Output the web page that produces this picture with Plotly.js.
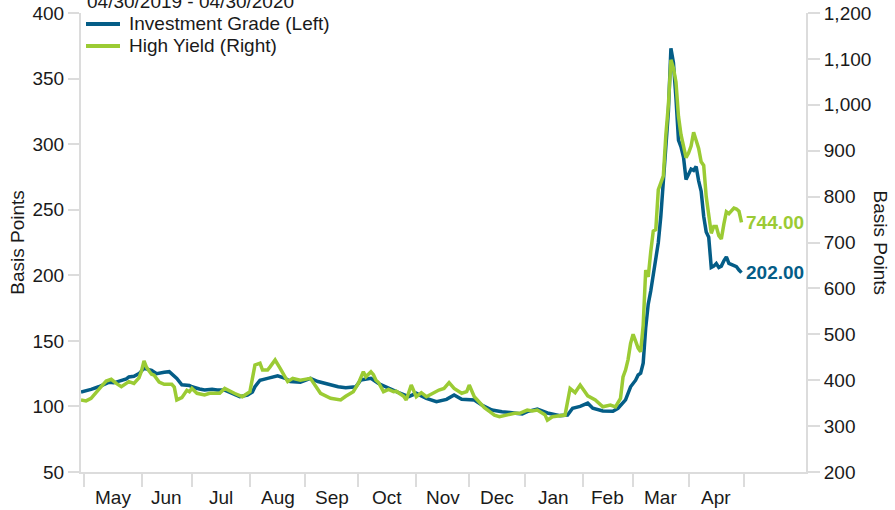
<!DOCTYPE html>
<html><head><meta charset="utf-8">
<script src="https://cdn.plot.ly/plotly-3.0.1.min.js"></script>
<style>html,body{margin:0;padding:0;background:#fff}#chart{width:895px;height:510px}</style>
</head><body><div id="chart"></div>
<script>
const periodText = '04/30/2019 - 04/30/2020';
const igName = 'Investment Grade (Left)';
const hyName = 'High Yield (Right)';
const axisTitle = 'Basis Points';

const igDates = ['2019-04-30','2019-05-03','2019-05-06','2019-05-09','2019-05-13','2019-05-15','2019-05-17','2019-05-22','2019-05-24','2019-05-27','2019-05-29','2019-05-31','2019-06-03','2019-06-04','2019-06-07','2019-06-11','2019-06-14','2019-06-18','2019-06-21','2019-06-25','2019-06-28','2019-07-01','2019-07-04','2019-07-08','2019-07-11','2019-07-15','2019-07-18','2019-07-23','2019-07-26','2019-07-31','2019-08-02','2019-08-05','2019-08-07','2019-08-12','2019-08-16','2019-08-21','2019-08-23','2019-08-29','2019-09-04','2019-09-09','2019-09-13','2019-09-19','2019-09-24','2019-09-30','2019-10-02','2019-10-08','2019-10-11','2019-10-17','2019-10-23','2019-10-29','2019-11-01','2019-11-07','2019-11-13','2019-11-19','2019-11-22','2019-11-27','2019-12-04','2019-12-09','2019-12-13','2019-12-19','2019-12-24','2019-12-31','2020-01-02','2020-01-08','2020-01-14','2020-01-21','2020-01-24','2020-01-28','2020-01-31','2020-02-05','2020-02-07','2020-02-13','2020-02-19','2020-02-21','2020-02-26','2020-02-28','2020-03-03','2020-03-04','2020-03-05','2020-03-06','2020-03-09','2020-03-10','2020-03-11','2020-03-12','2020-03-13','2020-03-16','2020-03-17','2020-03-18','2020-03-19','2020-03-20','2020-03-23','2020-03-24','2020-03-25','2020-03-26','2020-03-27','2020-03-30','2020-03-31','2020-04-01','2020-04-02','2020-04-03','2020-04-06','2020-04-07','2020-04-08','2020-04-09','2020-04-10','2020-04-13','2020-04-14','2020-04-15','2020-04-16','2020-04-17','2020-04-20','2020-04-21','2020-04-22','2020-04-23','2020-04-24','2020-04-27','2020-04-28','2020-04-29','2020-04-30'];
const igValues = [111,112,113,115,117,118.4,118,120,121,122.5,123,125,127,129,127.5,125,126,126.5,121.4,116.5,116,115,113.3,112.5,113,112.5,112.5,110,107.5,108.7,111,115,120,121.4,123.4,121.4,119,118.4,121.4,119,117,115,114.3,115,120.2,121.4,117.5,113.8,110.5,107.4,110,106.2,103.6,105.4,108.7,105.4,104.9,101.1,97.3,96,95.2,94.2,96,98,95,93,93.5,98.6,100,102.5,98.6,96.5,96.3,98.6,105,115,120,124,125.3,133,160,178,188,200,212,225,245,270,295,325,373,362,335,303,298,290,273,277,281,280,283,272,264,245,233,229,206,207,209,206,207,211,214,209,208,207,206.5,204,202];

const hyDates = ['2019-04-30','2019-05-02','2019-05-06','2019-05-08','2019-05-10','2019-05-14','2019-05-16','2019-05-20','2019-05-22','2019-05-27','2019-05-29','2019-05-31','2019-06-03','2019-06-04','2019-06-05','2019-06-06','2019-06-07','2019-06-10','2019-06-12','2019-06-14','2019-06-19','2019-06-20','2019-06-21','2019-06-25','2019-06-27','2019-06-28','2019-07-01','2019-07-03','2019-07-08','2019-07-10','2019-07-16','2019-07-18','2019-07-22','2019-07-24','2019-07-29','2019-08-01','2019-08-05','2019-08-07','2019-08-08','2019-08-12','2019-08-13','2019-08-15','2019-08-19','2019-08-22','2019-08-26','2019-08-29','2019-09-04','2019-09-06','2019-09-10','2019-09-16','2019-09-20','2019-09-24','2019-09-27','2019-10-01','2019-10-03','2019-10-04','2019-10-08','2019-10-09','2019-10-10','2019-10-11','2019-10-15','2019-10-17','2019-10-21','2019-10-22','2019-10-25','2019-10-28','2019-10-30','2019-11-01','2019-11-05','2019-11-07','2019-11-14','2019-11-18','2019-11-20','2019-11-22','2019-11-27','2019-11-29','2019-12-02','2019-12-04','2019-12-06','2019-12-10','2019-12-12','2019-12-16','2019-12-18','2019-12-23','2019-12-26','2019-12-30','2020-01-02','2020-01-06','2020-01-08','2020-01-13','2020-01-14','2020-01-16','2020-01-21','2020-01-23','2020-01-27','2020-01-29','2020-01-31','2020-02-05','2020-02-10','2020-02-13','2020-02-18','2020-02-20','2020-02-24','2020-02-25','2020-02-26','2020-02-27','2020-02-28','2020-03-02','2020-03-03','2020-03-04','2020-03-05','2020-03-06','2020-03-09','2020-03-10','2020-03-11','2020-03-12','2020-03-13','2020-03-16','2020-03-17','2020-03-18','2020-03-19','2020-03-20','2020-03-23','2020-03-24','2020-03-25','2020-03-26','2020-03-27','2020-03-30','2020-03-31','2020-04-01','2020-04-02','2020-04-03','2020-04-06','2020-04-07','2020-04-08','2020-04-09','2020-04-10','2020-04-13','2020-04-14','2020-04-15','2020-04-16','2020-04-17','2020-04-20','2020-04-21','2020-04-22','2020-04-23','2020-04-24','2020-04-27','2020-04-28','2020-04-29','2020-04-30'];
const hyValues = [357,355,360.5,372,386,398,402,393,386,397,393,405,420,442,428,420,413,411,396,391,391,385,357,362,378,375,382,371.5,368,371.5,371.5,382,376,371,364,375,433,437,422,422,429,444,426,397,404,400,404,386,371.5,360.5,357,365,375,393,418.5,407.6,418.5,412,400,395,375,380,375,376,365,357,389.5,364,372.8,364,378.6,382,394.5,382,371.5,375,389.5,364,353,340,332,324,320.5,325,328,328,335,333,335,325,313,320.5,322,324,382,373,389.5,366,357,342,346,342,360.5,407,422,445,480,500,485,470,462,520,640,625,680,725,728,815,830,845,935,1000,1098,1080,1050,975,935,910,885,895,910,940,925,905,876,868,800,760,720,735,735,715,708,740,767,763,770,775,773,768,744];

const monthStarts = ['2019-05-01','2019-06-01','2019-07-01','2019-08-01','2019-09-01','2019-10-01','2019-11-01','2019-12-01','2020-01-01','2020-02-01','2020-03-01','2020-04-01','2020-05-01'];
const monthLabels = ['May','Jun','Jul','Aug','Sep','Oct','Nov','Dec','Jan','Feb','Mar','Apr'];

const IG_COLOR = '#045d87';
const HY_COLOR = '#9bcb34';
const AXIS_COLOR = '#dcdcdc';
const TEXT_COLOR = '#1a1a1a';
const FONT = 'Liberation Sans, Arial, sans-serif';
const DAY = 86400000;

function toMs(s){ return Date.parse(s + 'T00:00:00Z'); }
function fmt(ms){ return new Date(ms).toISOString().replace('T',' ').slice(0,19); }
function isWeekend(ms){ const d = new Date(ms).getUTCDay(); return d === 0 || d === 6; }
function firstWeekday(s){ let t = toMs(s); while(isWeekend(t)) t += DAY; return fmt(t); }
function weekdayMid(a, b){
  const t0 = toMs(a), t1 = toMs(b);
  let total = 0;
  for(let d = t0; d < t1; d += DAY) if(!isWeekend(d)) total += DAY;
  const half = total / 2; let acc = 0;
  for(let d = t0; d < t1; d += DAY){
    if(isWeekend(d)) continue;
    if(acc + DAY >= half) return fmt(d + (half - acc));
    acc += DAY;
  }
}
const tickPos = monthStarts.map(firstWeekday);
const labelPos = monthLabels.map((m,i) => weekdayMid(monthStarts[i], monthStarts[i+1]));

const xRange = ['2019-04-30', '2020-06-04 14:00'];
const breaks = [{bounds:['sat','mon']}];

const traces = [
  {x: igDates, y: igValues, name: igName, type:'scatter', mode:'lines', yaxis:'y',
   line:{color: IG_COLOR, width:3.5}, showlegend:false},
  {x: hyDates, y: hyValues, name: hyName, type:'scatter', mode:'lines', yaxis:'y2',
   line:{color: HY_COLOR, width:3.5}, showlegend:false}
];

const axisCommon = {showgrid:false, zeroline:false, showline:true, linecolor:AXIS_COLOR, linewidth:2,
  ticks:'outside', tickcolor:AXIS_COLOR, tickwidth:2, tickfont:{family:FONT, size:19, color:TEXT_COLOR}};

const lastIg = igValues[igValues.length-1], lastHy = hyValues[hyValues.length-1];
const lastIgDate = igDates[igDates.length-1], lastHyDate = hyDates[hyDates.length-1];

// plot-area pixel helpers for legend placement
const PL = 81, PW = 725, PT = 13, PH = 459;
const px = v => (v - PL) / PW;
const py = v => (PT + PH - v) / PH;
const txtFont = {family:FONT, size:19, color:TEXT_COLOR};

const annotations = [
  {text: periodText, xref:'paper', yref:'paper', x:0.1517, y:1, xanchor:'center', yanchor:'bottom', yshift:-1,
   showarrow:false, font:txtFont},
  {text: axisTitle, xref:'paper', yref:'paper', x:px(880), y:0.5, xanchor:'center', yanchor:'middle',
   textangle:90, showarrow:false, font:txtFont},
  {text: '<b>' + lastHy.toFixed(2) + '</b>', x:lastHyDate, y:lastHy, xref:'x', yref:'y2', xanchor:'left', yanchor:'middle',
   xshift:2, showarrow:false, font:{family:FONT, size:19, color:HY_COLOR}},
  {text: '<b>' + lastIg.toFixed(2) + '</b>', x:lastIgDate, y:lastIg, xref:'x', yref:'y', xanchor:'left', yanchor:'middle',
   xshift:2, showarrow:false, font:{family:FONT, size:19, color:IG_COLOR}},
  {text: igName, xref:'paper', yref:'paper', x:px(127), y:py(24), xanchor:'left', yanchor:'middle', showarrow:false, font:txtFont},
  {text: hyName, xref:'paper', yref:'paper', x:px(127), y:py(46), xanchor:'left', yanchor:'middle', showarrow:false, font:txtFont}
];
monthLabels.forEach((m,i) => annotations.push({text:m, x:labelPos[i], xref:'x', yref:'paper', y:py(497),
  xanchor:'center', yanchor:'middle', showarrow:false, font:txtFont}));

const shapes = [
  {type:'line', xref:'paper', yref:'paper', x0:px(86), x1:px(120), y0:py(24), y1:py(24), line:{color:IG_COLOR, width:4}},
  {type:'line', xref:'paper', yref:'paper', x0:px(86), x1:px(120), y0:py(46), y1:py(46), line:{color:HY_COLOR, width:4}}
];

const layout = {
  width:895, height:510,
  margin:{l:81, r:89, t:13, b:38},
  paper_bgcolor:'#fff', plot_bgcolor:'#fff',
  font:{family:FONT, size:19, color:TEXT_COLOR},
  showlegend:false,
  xaxis: Object.assign({}, axisCommon, {type:'date', range:xRange, rangebreaks:breaks,
     tickmode:'array', tickvals:tickPos, ticktext:tickPos.map(()=>''), ticklen:13}),
  yaxis: Object.assign({}, axisCommon, {range:[50,400], tick0:50, dtick:50, ticklen:11,
     title:{text:axisTitle, font:txtFont, standoff:3}}),
  yaxis2: Object.assign({}, axisCommon, {overlaying:'y', side:'right', range:[200,1200], tick0:200, dtick:100,
     tickformat:',d', ticklen:12}),
  annotations: annotations,
  shapes: shapes
};

Plotly.newPlot('chart', traces, layout, {displayModeBar:false, staticPlot:true});
</script>
</body></html>
